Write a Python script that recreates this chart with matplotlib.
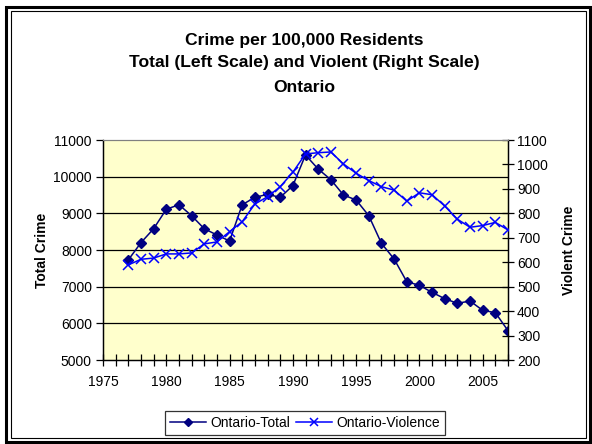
import matplotlib
matplotlib.use("Agg")
import matplotlib.pyplot as plt
from matplotlib.patches import Rectangle
from matplotlib.ticker import MultipleLocator

plt.rcParams['font.family'] = ['Liberation Sans', 'DejaVu Sans']

years = list(range(1977, 2008))
total = [7730, 8200, 8580, 9110, 9235, 8936, 8580, 8410, 8245, 9235,
         9436, 9518, 9436, 9755, 10591, 10209, 9918, 9500, 9364, 8936,
         8182, 7755, 7136, 7036, 6845, 6673, 6545, 6609, 6355, 6291, 5800]
violence = [589, 612, 617, 634, 634, 638, 675, 683, 725, 766,
            838, 868, 909, 968, 1043, 1048, 1051, 1002, 964, 934,
            909, 895, 850, 884, 876, 830, 776, 743, 750, 763, 732]

title_lines = ["Crime per 100,000 Residents",
               "Total (Left Scale) and Violent (Right Scale)",
               "Ontario"]
left_label = "Total Crime"
right_label = "Violent Crime"
series_names = ["Ontario-Total", "Ontario-Violence"]

W, H = 592, 444
fig = plt.figure(figsize=(W/100, H/100), dpi=100)
fig.patch.set_facecolor('white')

# frame
fig.add_artist(Rectangle((6/W, 1 - 442/H), 584/W, 435/H, transform=fig.transFigure,
                         fill=False, edgecolor='black', linewidth=2.2))
fig.add_artist(Rectangle((11/W, 1 - 438/H), 575/W, 427/H, transform=fig.transFigure,
                         fill=False, edgecolor='black', linewidth=0.8))

left, right, top, bottom = 103, 508, 140, 360
ax = fig.add_axes([left/W, 1 - bottom/H, (right-left)/W, (bottom-top)/H])
ax.set_facecolor('#FFFFCC')
ax2 = ax.twinx()

ax.set_xlim(1975, 2007)
ax.set_ylim(5000, 11000)
ax2.set_ylim(200, 1100)

for y in range(6000, 11000, 1000):
    ax.axhline(y, color='black', linewidth=0.9, zorder=1)

l1, = ax.plot(years, total, color='#000080', marker='D', markersize=5.5,
              linewidth=1.1, zorder=3)
l2, = ax2.plot(years, violence, color='#0000FF', marker='x', markersize=7,
               markeredgewidth=1.1, linewidth=1.1, zorder=3)

ax.xaxis.set_major_locator(MultipleLocator(5))
ax.xaxis.set_minor_locator(MultipleLocator(1))
ax.yaxis.set_major_locator(MultipleLocator(1000))
ax2.yaxis.set_major_locator(MultipleLocator(100))

ax.tick_params(axis='x', which='both', direction='inout', length=9, width=0.9,
               labelsize=10, pad=6)
ax.tick_params(axis='y', direction='out', length=5, width=0.9, labelsize=10, pad=3)
ax2.tick_params(axis='y', direction='inout', length=9, width=0.9, labelsize=10, pad=2)

for a in (ax, ax2):
    a.spines['top'].set_color('#808080')
    a.spines['left'].set_linewidth(0.9)
    a.spines['right'].set_linewidth(0.9)
    a.spines['bottom'].set_linewidth(0.9)

ax.set_ylabel(left_label, fontsize=10, fontweight='bold', labelpad=3)
ax2.set_ylabel(right_label, fontsize=10, fontweight='bold', labelpad=10)

ty = [40, 63, 87]
for t, y in zip(title_lines, ty):
    fig.text(304/W, 1 - y/H, t, ha='center', va='center', fontsize=12.6,
             fontweight='bold')

leg = fig.legend([l1, l2], series_names, loc='center', bbox_to_anchor=(305/W, 1 - 423/H),
                 ncol=2, frameon=True, fancybox=False, edgecolor='black',
                 fontsize=10, handlelength=2.6, handletextpad=0.3, columnspacing=0.4,
                 borderpad=0.35, markerscale=0.8)
leg.get_frame().set_linewidth(0.9)

fig.savefig('out.png', dpi=100, facecolor='white')
